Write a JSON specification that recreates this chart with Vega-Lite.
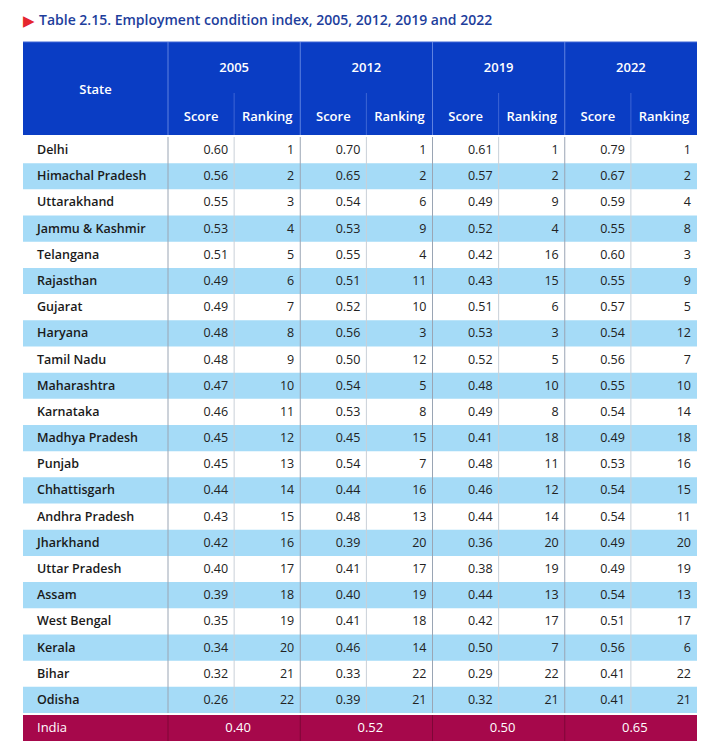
{
  "$schema": "https://vega.github.io/schema/vega-lite/v6.json",
  "padding": {"left": 22, "top": 0, "right": 0, "bottom": 0},
  "background": "white",
  "spacing": 0,
  "config": {
    "view": {"stroke": null},
    "axis": {"disable": true},
    "text": {"font": "Open Sans", "fontSize": 12.5, "color": "#222222"}
  },
  "datasets": {
    "states": [
      {"state": "Delhi", "s2005": 0.60, "r2005": 1, "s2012": 0.70, "r2012": 1, "s2019": 0.61, "r2019": 1, "s2022": 0.79, "r2022": 1},
      {"state": "Himachal Pradesh", "s2005": 0.56, "r2005": 2, "s2012": 0.65, "r2012": 2, "s2019": 0.57, "r2019": 2, "s2022": 0.67, "r2022": 2},
      {"state": "Uttarakhand", "s2005": 0.55, "r2005": 3, "s2012": 0.54, "r2012": 6, "s2019": 0.49, "r2019": 9, "s2022": 0.59, "r2022": 4},
      {"state": "Jammu & Kashmir", "s2005": 0.53, "r2005": 4, "s2012": 0.53, "r2012": 9, "s2019": 0.52, "r2019": 4, "s2022": 0.55, "r2022": 8},
      {"state": "Telangana", "s2005": 0.51, "r2005": 5, "s2012": 0.55, "r2012": 4, "s2019": 0.42, "r2019": 16, "s2022": 0.60, "r2022": 3},
      {"state": "Rajasthan", "s2005": 0.49, "r2005": 6, "s2012": 0.51, "r2012": 11, "s2019": 0.43, "r2019": 15, "s2022": 0.55, "r2022": 9},
      {"state": "Gujarat", "s2005": 0.49, "r2005": 7, "s2012": 0.52, "r2012": 10, "s2019": 0.51, "r2019": 6, "s2022": 0.57, "r2022": 5},
      {"state": "Haryana", "s2005": 0.48, "r2005": 8, "s2012": 0.56, "r2012": 3, "s2019": 0.53, "r2019": 3, "s2022": 0.54, "r2022": 12},
      {"state": "Tamil Nadu", "s2005": 0.48, "r2005": 9, "s2012": 0.50, "r2012": 12, "s2019": 0.52, "r2019": 5, "s2022": 0.56, "r2022": 7},
      {"state": "Maharashtra", "s2005": 0.47, "r2005": 10, "s2012": 0.54, "r2012": 5, "s2019": 0.48, "r2019": 10, "s2022": 0.55, "r2022": 10},
      {"state": "Karnataka", "s2005": 0.46, "r2005": 11, "s2012": 0.53, "r2012": 8, "s2019": 0.49, "r2019": 8, "s2022": 0.54, "r2022": 14},
      {"state": "Madhya Pradesh", "s2005": 0.45, "r2005": 12, "s2012": 0.45, "r2012": 15, "s2019": 0.41, "r2019": 18, "s2022": 0.49, "r2022": 18},
      {"state": "Punjab", "s2005": 0.45, "r2005": 13, "s2012": 0.54, "r2012": 7, "s2019": 0.48, "r2019": 11, "s2022": 0.53, "r2022": 16},
      {"state": "Chhattisgarh", "s2005": 0.44, "r2005": 14, "s2012": 0.44, "r2012": 16, "s2019": 0.46, "r2019": 12, "s2022": 0.54, "r2022": 15},
      {"state": "Andhra Pradesh", "s2005": 0.43, "r2005": 15, "s2012": 0.48, "r2012": 13, "s2019": 0.44, "r2019": 14, "s2022": 0.54, "r2022": 11},
      {"state": "Jharkhand", "s2005": 0.42, "r2005": 16, "s2012": 0.39, "r2012": 20, "s2019": 0.36, "r2019": 20, "s2022": 0.49, "r2022": 20},
      {"state": "Uttar Pradesh", "s2005": 0.40, "r2005": 17, "s2012": 0.41, "r2012": 17, "s2019": 0.38, "r2019": 19, "s2022": 0.49, "r2022": 19},
      {"state": "Assam", "s2005": 0.39, "r2005": 18, "s2012": 0.40, "r2012": 19, "s2019": 0.44, "r2019": 13, "s2022": 0.54, "r2022": 13},
      {"state": "West Bengal", "s2005": 0.35, "r2005": 19, "s2012": 0.41, "r2012": 18, "s2019": 0.42, "r2019": 17, "s2022": 0.51, "r2022": 17},
      {"state": "Kerala", "s2005": 0.34, "r2005": 20, "s2012": 0.46, "r2012": 14, "s2019": 0.50, "r2019": 7, "s2022": 0.56, "r2022": 6},
      {"state": "Bihar", "s2005": 0.32, "r2005": 21, "s2012": 0.33, "r2012": 22, "s2019": 0.29, "r2019": 22, "s2022": 0.41, "r2022": 22},
      {"state": "Odisha", "s2005": 0.26, "r2005": 22, "s2012": 0.39, "r2012": 21, "s2019": 0.32, "r2019": 21, "s2022": 0.41, "r2022": 21}
    ],
    "india": [
      {"state": "India", "s2005": 0.40, "s2012": 0.52, "s2019": 0.50, "s2022": 0.65}
    ],
    "one": [{}]
  },
  "vconcat": [
    {
      "width": 674,
      "height": 135,
      "data": {"name": "one"},
      "layer": [
        {
          "mark": {"type": "rect", "fill": "#0a3dc4"},
          "encoding": {
            "x": {"datum": 0, "type": "quantitative", "scale": {"type": "linear", "domain": [0, 1, 9], "range": [0, 145, 674], "nice": false, "zero": false}},
            "x2": {"datum": 9},
            "y": {"datum": 1, "type": "quantitative", "scale": {"type": "linear", "domain": [0, 1, 2, 3], "range": [0, 42, 93, 135], "nice": false, "zero": false}},
            "y2": {"datum": 3}
          }
        },
        {"mark": {"type": "rule", "color": "#3f67d6", "strokeWidth": 1}, "encoding": {"x": {"datum": 0, "type": "quantitative"}, "x2": {"datum": 9}, "y": {"datum": 1, "type": "quantitative"}}},
        {
          "mark": {"type": "text", "text": "▶", "color": "#e5262e", "fontSize": 15, "align": "left", "baseline": "middle", "font": "DejaVu Sans"},
          "encoding": {
            "x": {"datum": 0, "type": "quantitative"},
            "y": {"datum": 0.5, "type": "quantitative"}
          }
        },
        {
          "mark": {"type": "text", "text": "Table 2.15. Employment condition index, 2005, 2012, 2019 and 2022", "color": "#1d3e9c", "font": "Open Sans", "fontSize": 14, "fontWeight": 600, "align": "left", "baseline": "middle", "dx": 16},
          "encoding": {
            "x": {"datum": 0, "type": "quantitative"},
            "y": {"datum": 0.5, "type": "quantitative"}
          }
        },
        {"mark": {"type": "rule", "color": "#5f82e0", "strokeWidth": 1}, "encoding": {"x": {"datum": 1, "type": "quantitative"}, "y": {"datum": 1, "type": "quantitative"}, "y2": {"datum": 3}}},
        {"mark": {"type": "rule", "color": "#5f82e0", "strokeWidth": 1}, "encoding": {"x": {"datum": 3, "type": "quantitative"}, "y": {"datum": 1, "type": "quantitative"}, "y2": {"datum": 3}}},
        {"mark": {"type": "rule", "color": "#5f82e0", "strokeWidth": 1}, "encoding": {"x": {"datum": 5, "type": "quantitative"}, "y": {"datum": 1, "type": "quantitative"}, "y2": {"datum": 3}}},
        {"mark": {"type": "rule", "color": "#5f82e0", "strokeWidth": 1}, "encoding": {"x": {"datum": 7, "type": "quantitative"}, "y": {"datum": 1, "type": "quantitative"}, "y2": {"datum": 3}}},
        {"mark": {"type": "rule", "color": "#4a70d8", "strokeWidth": 0.8}, "encoding": {"x": {"datum": 2, "type": "quantitative"}, "y": {"datum": 2, "type": "quantitative"}, "y2": {"datum": 3}}},
        {"mark": {"type": "rule", "color": "#4a70d8", "strokeWidth": 0.8}, "encoding": {"x": {"datum": 4, "type": "quantitative"}, "y": {"datum": 2, "type": "quantitative"}, "y2": {"datum": 3}}},
        {"mark": {"type": "rule", "color": "#4a70d8", "strokeWidth": 0.8}, "encoding": {"x": {"datum": 6, "type": "quantitative"}, "y": {"datum": 2, "type": "quantitative"}, "y2": {"datum": 3}}},
        {"mark": {"type": "rule", "color": "#4a70d8", "strokeWidth": 0.8}, "encoding": {"x": {"datum": 8, "type": "quantitative"}, "y": {"datum": 2, "type": "quantitative"}, "y2": {"datum": 3}}},
        {
          "mark": {"type": "text", "text": "State", "color": "white", "fontSize": 13, "fontWeight": 600, "align": "center", "baseline": "middle"},
          "encoding": {"x": {"datum": 0.5, "type": "quantitative"}, "y": {"datum": 1.94, "type": "quantitative"}}
        },
        {"mark": {"type": "text", "text": "2005", "color": "white", "fontSize": 13, "fontWeight": 600, "baseline": "middle"}, "encoding": {"x": {"datum": 2, "type": "quantitative"}, "y": {"datum": 1.51, "type": "quantitative"}}},
        {"mark": {"type": "text", "text": "2012", "color": "white", "fontSize": 13, "fontWeight": 600, "baseline": "middle"}, "encoding": {"x": {"datum": 4, "type": "quantitative"}, "y": {"datum": 1.51, "type": "quantitative"}}},
        {"mark": {"type": "text", "text": "2019", "color": "white", "fontSize": 13, "fontWeight": 600, "baseline": "middle"}, "encoding": {"x": {"datum": 6, "type": "quantitative"}, "y": {"datum": 1.51, "type": "quantitative"}}},
        {"mark": {"type": "text", "text": "2022", "color": "white", "fontSize": 13, "fontWeight": 600, "baseline": "middle"}, "encoding": {"x": {"datum": 8, "type": "quantitative"}, "y": {"datum": 1.51, "type": "quantitative"}}},
        {"mark": {"type": "text", "text": "Score", "color": "white", "fontSize": 13, "fontWeight": 600, "baseline": "middle"}, "encoding": {"x": {"datum": 1.5, "type": "quantitative"}, "y": {"datum": 2.56, "type": "quantitative"}}},
        {"mark": {"type": "text", "text": "Ranking", "color": "white", "fontSize": 13, "fontWeight": 600, "baseline": "middle"}, "encoding": {"x": {"datum": 2.5, "type": "quantitative"}, "y": {"datum": 2.56, "type": "quantitative"}}},
        {"mark": {"type": "text", "text": "Score", "color": "white", "fontSize": 13, "fontWeight": 600, "baseline": "middle"}, "encoding": {"x": {"datum": 3.5, "type": "quantitative"}, "y": {"datum": 2.56, "type": "quantitative"}}},
        {"mark": {"type": "text", "text": "Ranking", "color": "white", "fontSize": 13, "fontWeight": 600, "baseline": "middle"}, "encoding": {"x": {"datum": 4.5, "type": "quantitative"}, "y": {"datum": 2.56, "type": "quantitative"}}},
        {"mark": {"type": "text", "text": "Score", "color": "white", "fontSize": 13, "fontWeight": 600, "baseline": "middle"}, "encoding": {"x": {"datum": 5.5, "type": "quantitative"}, "y": {"datum": 2.56, "type": "quantitative"}}},
        {"mark": {"type": "text", "text": "Ranking", "color": "white", "fontSize": 13, "fontWeight": 600, "baseline": "middle"}, "encoding": {"x": {"datum": 6.5, "type": "quantitative"}, "y": {"datum": 2.56, "type": "quantitative"}}},
        {"mark": {"type": "text", "text": "Score", "color": "white", "fontSize": 13, "fontWeight": 600, "baseline": "middle"}, "encoding": {"x": {"datum": 7.5, "type": "quantitative"}, "y": {"datum": 2.56, "type": "quantitative"}}},
        {"mark": {"type": "text", "text": "Ranking", "color": "white", "fontSize": 13, "fontWeight": 600, "baseline": "middle"}, "encoding": {"x": {"datum": 8.5, "type": "quantitative"}, "y": {"datum": 2.56, "type": "quantitative"}}}
      ]
    },
    {
      "width": 674,
      "height": 576,
      "data": {"name": "states"},
      "layer": [
        {
          "transform": [
            {"window": [{"op": "row_number", "as": "rn"}]},
            {"filter": "datum.rn % 2 == 0"}
          ],
          "mark": {"type": "rect", "fill": "#a5dbf7"},
          "encoding": {
            "x": {"datum": 0, "type": "quantitative", "scale": {"type": "linear", "domain": [0, 1, 9], "range": [0, 145, 674], "nice": false, "zero": false}},
            "x2": {"datum": 9},
            "y": {"field": "state", "type": "nominal", "sort": null, "scale": {"type": "band", "paddingInner": 0, "paddingOuter": 0, "domain": ["Delhi", "Himachal Pradesh", "Uttarakhand", "Jammu & Kashmir", "Telangana", "Rajasthan", "Gujarat", "Haryana", "Tamil Nadu", "Maharashtra", "Karnataka", "Madhya Pradesh", "Punjab", "Chhattisgarh", "Andhra Pradesh", "Jharkhand", "Uttar Pradesh", "Assam", "West Bengal", "Kerala", "Bihar", "Odisha"]}}
          }
        },
        {"data": {"name": "one"}, "mark": {"type": "rule", "color": "#9aa5b4", "strokeWidth": 1}, "encoding": {"x": {"datum": 1, "type": "quantitative"}}},
        {"data": {"name": "one"}, "mark": {"type": "rule", "color": "#9aa5b4", "strokeWidth": 1}, "encoding": {"x": {"datum": 3, "type": "quantitative"}}},
        {"data": {"name": "one"}, "mark": {"type": "rule", "color": "#9aa5b4", "strokeWidth": 1}, "encoding": {"x": {"datum": 5, "type": "quantitative"}}},
        {"data": {"name": "one"}, "mark": {"type": "rule", "color": "#9aa5b4", "strokeWidth": 1}, "encoding": {"x": {"datum": 7, "type": "quantitative"}}},
        {"data": {"name": "one"}, "mark": {"type": "rule", "color": "#c9d0d8", "strokeWidth": 1}, "encoding": {"x": {"datum": 2, "type": "quantitative"}}},
        {"data": {"name": "one"}, "mark": {"type": "rule", "color": "#c9d0d8", "strokeWidth": 1}, "encoding": {"x": {"datum": 4, "type": "quantitative"}}},
        {"data": {"name": "one"}, "mark": {"type": "rule", "color": "#c9d0d8", "strokeWidth": 1}, "encoding": {"x": {"datum": 6, "type": "quantitative"}}},
        {"data": {"name": "one"}, "mark": {"type": "rule", "color": "#c9d0d8", "strokeWidth": 1}, "encoding": {"x": {"datum": 8, "type": "quantitative"}}},
        {
          "mark": {"type": "text", "align": "left", "dx": 14, "fontWeight": 600, "color": "#1a1a1a", "baseline": "middle"},
          "encoding": {
            "x": {"datum": 0, "type": "quantitative"},
            "y": {"field": "state", "type": "nominal", "sort": null},
            "text": {"field": "state"}
          }
        },
        {"mark": {"type": "text", "align": "right", "dx": -6, "baseline": "middle"}, "encoding": {"x": {"datum": 2, "type": "quantitative"}, "y": {"field": "state", "type": "nominal", "sort": null}, "text": {"field": "s2005", "type": "quantitative", "format": ".2f"}}},
        {"mark": {"type": "text", "align": "right", "dx": -6, "baseline": "middle"}, "encoding": {"x": {"datum": 3, "type": "quantitative"}, "y": {"field": "state", "type": "nominal", "sort": null}, "text": {"field": "r2005", "type": "quantitative"}}},
        {"mark": {"type": "text", "align": "right", "dx": -6, "baseline": "middle"}, "encoding": {"x": {"datum": 4, "type": "quantitative"}, "y": {"field": "state", "type": "nominal", "sort": null}, "text": {"field": "s2012", "type": "quantitative", "format": ".2f"}}},
        {"mark": {"type": "text", "align": "right", "dx": -6, "baseline": "middle"}, "encoding": {"x": {"datum": 5, "type": "quantitative"}, "y": {"field": "state", "type": "nominal", "sort": null}, "text": {"field": "r2012", "type": "quantitative"}}},
        {"mark": {"type": "text", "align": "right", "dx": -6, "baseline": "middle"}, "encoding": {"x": {"datum": 6, "type": "quantitative"}, "y": {"field": "state", "type": "nominal", "sort": null}, "text": {"field": "s2019", "type": "quantitative", "format": ".2f"}}},
        {"mark": {"type": "text", "align": "right", "dx": -6, "baseline": "middle"}, "encoding": {"x": {"datum": 7, "type": "quantitative"}, "y": {"field": "state", "type": "nominal", "sort": null}, "text": {"field": "r2019", "type": "quantitative"}}},
        {"mark": {"type": "text", "align": "right", "dx": -6, "baseline": "middle"}, "encoding": {"x": {"datum": 8, "type": "quantitative"}, "y": {"field": "state", "type": "nominal", "sort": null}, "text": {"field": "s2022", "type": "quantitative", "format": ".2f"}}},
        {"mark": {"type": "text", "align": "right", "dx": -6, "baseline": "middle"}, "encoding": {"x": {"datum": 9, "type": "quantitative"}, "y": {"field": "state", "type": "nominal", "sort": null}, "text": {"field": "r2022", "type": "quantitative"}}}
      ]
    },
    {
      "width": 674,
      "height": 26,
      "data": {"name": "india"},
      "layer": [
        {
          "mark": {"type": "rect", "fill": "#a6084b"},
          "encoding": {
            "x": {"datum": 0, "type": "quantitative", "scale": {"type": "linear", "domain": [0, 1, 9], "range": [0, 145, 674], "nice": false, "zero": false}},
            "x2": {"datum": 9},
            "y": {"datum": 0, "type": "quantitative", "scale": {"type": "linear", "domain": [0, 1], "range": [0, 26], "nice": false, "zero": false}},
            "y2": {"datum": 1}
          }
        },
        {"mark": {"type": "rule", "color": "#7e0637", "strokeWidth": 1}, "encoding": {"x": {"datum": 1, "type": "quantitative"}}},
        {"mark": {"type": "rule", "color": "#7e0637", "strokeWidth": 1}, "encoding": {"x": {"datum": 3, "type": "quantitative"}}},
        {"mark": {"type": "rule", "color": "#7e0637", "strokeWidth": 1}, "encoding": {"x": {"datum": 5, "type": "quantitative"}}},
        {"mark": {"type": "rule", "color": "#7e0637", "strokeWidth": 1}, "encoding": {"x": {"datum": 7, "type": "quantitative"}}},
        {
          "mark": {"type": "text", "align": "left", "dx": 14, "color": "white", "baseline": "middle", "fontSize": 13},
          "encoding": {"x": {"datum": 0, "type": "quantitative"}, "y": {"datum": 0.5, "type": "quantitative"}, "text": {"field": "state"}}
        },
        {"mark": {"type": "text", "color": "white", "baseline": "middle", "dx": 4, "fontSize": 13}, "encoding": {"x": {"datum": 2, "type": "quantitative"}, "y": {"datum": 0.5, "type": "quantitative"}, "text": {"field": "s2005", "type": "quantitative", "format": ".2f"}}},
        {"mark": {"type": "text", "color": "white", "baseline": "middle", "dx": 4, "fontSize": 13}, "encoding": {"x": {"datum": 4, "type": "quantitative"}, "y": {"datum": 0.5, "type": "quantitative"}, "text": {"field": "s2012", "type": "quantitative", "format": ".2f"}}},
        {"mark": {"type": "text", "color": "white", "baseline": "middle", "dx": 4, "fontSize": 13}, "encoding": {"x": {"datum": 6, "type": "quantitative"}, "y": {"datum": 0.5, "type": "quantitative"}, "text": {"field": "s2019", "type": "quantitative", "format": ".2f"}}},
        {"mark": {"type": "text", "color": "white", "baseline": "middle", "dx": 4, "fontSize": 13}, "encoding": {"x": {"datum": 8, "type": "quantitative"}, "y": {"datum": 0.5, "type": "quantitative"}, "text": {"field": "s2022", "type": "quantitative", "format": ".2f"}}}
      ]
    }
  ]
}
